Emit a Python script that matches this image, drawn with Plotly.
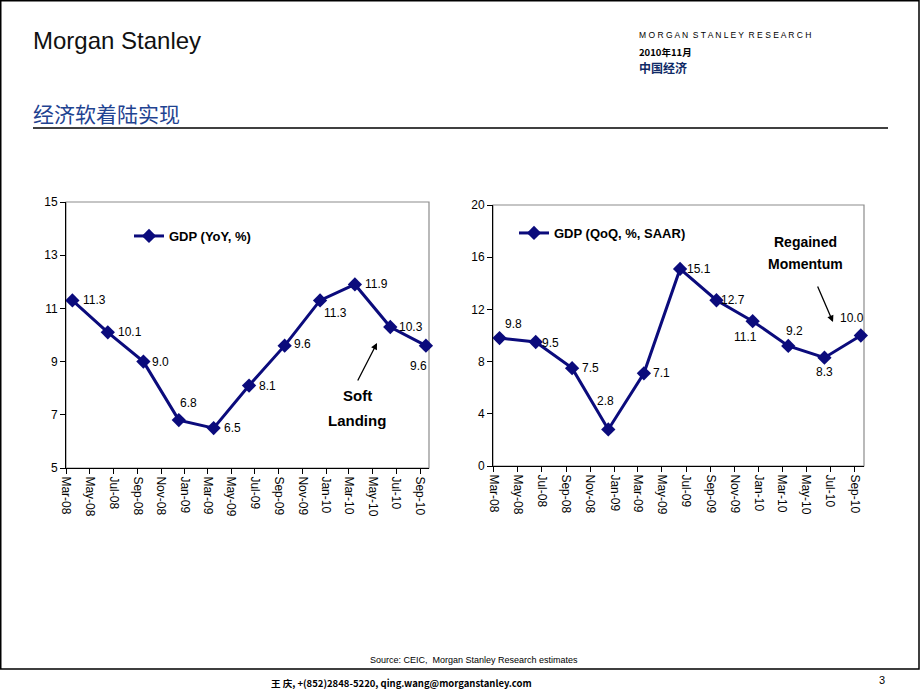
import plotly.graph_objects as go

# ---- data ----
quarters = ["2008-03", "2008-06", "2008-09", "2008-12", "2009-03", "2009-06",
            "2009-09", "2009-12", "2010-03", "2010-06", "2010-09"]
gdp_yoy = [11.3, 10.1, 9.0, 6.8, 6.5, 8.1, 9.6, 11.3, 11.9, 10.3, 9.6]
gdp_qoq = [9.8, 9.5, 7.5, 2.8, 7.1, 15.1, 12.7, 11.1, 9.2, 8.3, 10.0]
yoy_name = "GDP (YoY, %)"
qoq_name = "GDP (QoQ, %, SAAR)"
yoy_ticks = [5, 7, 9, 11, 13, 15]
qoq_ticks = [0, 4, 8, 12, 16, 20]

# label offsets (pixels, screen: +x right, +y down) — style only
yoy_lbl_off = [(22, 0), (22, 0), (17, 0), (10, -17), (19, 0), (18, 0), (18, -2),
               (16, 13), (22, 0), (21, 0), (-7, 20)]
qoq_lbl_off = [(14, -14), (15, 1), (18, 0), (-3, -28), (18, 0), (19, 0), (17, 0),
               (-7, 16), (6, -15), (0, 14), (-9, -18)]

W, H = 920, 690
FONT = "Liberation Sans, Arial, sans-serif"
CJK = "Noto Sans CJK SC, sans-serif"
NAVY = "#0b0b7c"

def px(x):
    return x / W

def py(y):
    return 1 - y / H

fig = go.Figure()
fig.add_trace(go.Scatter(
    x=quarters, y=gdp_yoy, name=yoy_name, mode="lines+markers",
    xperiod="M1", xperiodalignment="middle",
    line=dict(color=NAVY, width=3), marker=dict(symbol="diamond", size=11, color=NAVY),
    cliponaxis=False, xaxis="x", yaxis="y", legend="legend"))
fig.add_trace(go.Scatter(
    x=quarters, y=gdp_qoq, name=qoq_name, mode="lines+markers",
    xperiod="M1", xperiodalignment="middle",
    line=dict(color=NAVY, width=3), marker=dict(symbol="diamond", size=11, color=NAVY),
    cliponaxis=False, xaxis="x2", yaxis="y2", legend="legend2"))

xcommon = dict(type="date", tick0="2008-03-01", dtick="M2", tickformat="%b-%y",
               tickangle=90, ticks="outside", ticklen=5, tickcolor="black",
               showline=True, linecolor="black", linewidth=1, showgrid=False,
               zeroline=False, tickfont=dict(family=FONT, size=12, color="black"),
               range=["2008-02-29", "2010-09-24"], fixedrange=True, automargin=False)
ycommon = dict(ticks="outside", ticklen=5, tickcolor="black", showline=True,
               linecolor="black", linewidth=1, showgrid=False, zeroline=False,
               tickfont=dict(family=FONT, size=12, color="black"), fixedrange=True,
               automargin=False)

L = dict(x0=66, x1=429, y0=202, y1=468)
R = dict(x0=493, x1=864, y0=205, y1=466)

fig.update_layout(
    width=W, height=H, margin=dict(l=0, r=0, t=0, b=0, pad=0, autoexpand=False),
    paper_bgcolor="white", plot_bgcolor="white",
    xaxis=dict(domain=[px(L["x0"]), px(L["x1"])], anchor="y", **xcommon),
    yaxis=dict(domain=[py(L["y1"]), py(L["y0"])], anchor="x", range=[5, 15],
               tickvals=yoy_ticks, **ycommon),
    xaxis2=dict(domain=[px(R["x0"]), px(R["x1"])], anchor="y2", **xcommon),
    yaxis2=dict(domain=[py(R["y1"]), py(R["y0"])], anchor="x2", range=[0, 20],
                tickvals=qoq_ticks, **ycommon),
    showlegend=True,
    legend=dict(x=px(129), y=py(236), xanchor="left", yanchor="middle",
                bgcolor="rgba(0,0,0,0)", itemwidth=30,
                font=dict(family=FONT, size=13, color="black", weight="bold")),
    legend2=dict(x=px(514), y=py(233), xanchor="left", yanchor="middle",
                 bgcolor="rgba(0,0,0,0)", itemwidth=30,
                 font=dict(family=FONT, size=13, color="black", weight="bold")),
)

shapes = []
# slide frame
shapes.append(dict(type="rect", xref="paper", yref="paper", x0=px(0.75), x1=px(919),
                   y0=py(669), y1=py(0.75), line=dict(color="black", width=1.5)))
# title rule
shapes.append(dict(type="line", xref="paper", yref="paper", x0=px(33), x1=px(888),
                   y0=py(128), y1=py(128), line=dict(color="black", width=1.3)))
# gray plot-area borders
for b in (L, R):
    shapes.append(dict(type="rect", xref="paper", yref="paper", x0=px(b["x0"]),
                       x1=px(b["x1"]), y0=py(b["y1"]), y1=py(b["y0"]),
                       line=dict(color="#8c8c8c", width=1.2), layer="below"))
fig.update_layout(shapes=shapes)

ann = []
def text(x, y, s, size, color="black", family=FONT, bold=False, xanchor="left"):
    ann.append(dict(x=px(x), y=py(y), xref="paper", yref="paper", text=s,
                    showarrow=False, xanchor=xanchor, yanchor="middle",
                    font=dict(family=family, size=size, color=color,
                              weight="bold" if bold else "normal")))

# data labels, anchored on the data points (mid-month like the markers)
for xr, yr, vals, offs in [("x", "y", gdp_yoy, yoy_lbl_off), ("x2", "y2", gdp_qoq, qoq_lbl_off)]:
    for q, v, (dx, dy) in zip(quarters, vals, offs):
        ann.append(dict(x=q + "-16", y=v, xref=xr, yref=yr, text=f"{v:.1f}",
                        showarrow=False, xanchor="center", yanchor="middle",
                        xshift=dx, yshift=-dy,
                        font=dict(family=FONT, size=12, color="black")))

text(31, 40, "Morgan Stanley", 24, color="#111111")
text(637, 35, "M O R G A N &nbsp;S T A N L E Y &nbsp;R E S E A R C H", 8.5)
text(637, 52, "2010年11月", 9.5, bold=True, family=CJK)
text(637, 67, "中国经济", 12, color="#0f2a66", bold=True, family=CJK)
text(31, 113, "经济软着陆实现", 21, color="#1f4391", family=CJK)
text(474, 660, "Source: CEIC,  Morgan Stanley Research estimates", 9, xanchor="center")
text(401, 683, "王 庆, +(852)2848-5220, qing.wang@morganstanley.com", 9.5, bold=True,
     family=CJK, xanchor="center")
text(882, 680, "3", 11, xanchor="center")

text(357, 395, "Soft", 15, bold=True, xanchor="center")
text(357, 421, "Landing", 15, bold=True, xanchor="center")
text(805, 242, "Regained", 14, bold=True, xanchor="center")
text(805, 264, "Momentum", 14, bold=True, xanchor="center")

# arrows
for (hx, hy, tx, ty) in [(377, 343, 357, 382), (833, 322, 817, 285)]:
    ann.append(dict(x=px(hx), y=py(hy), xref="paper", yref="paper", text="",
                    showarrow=True, ax=tx - hx, ay=ty - hy, axref="pixel", ayref="pixel",
                    arrowhead=2, arrowsize=1, arrowwidth=1.3, arrowcolor="black"))
fig.update_layout(annotations=ann)

fig.write_html("out.html", config={"displayModeBar": False},
               post_script="document.body.style.margin='0';document.body.style.overflow='hidden';")
